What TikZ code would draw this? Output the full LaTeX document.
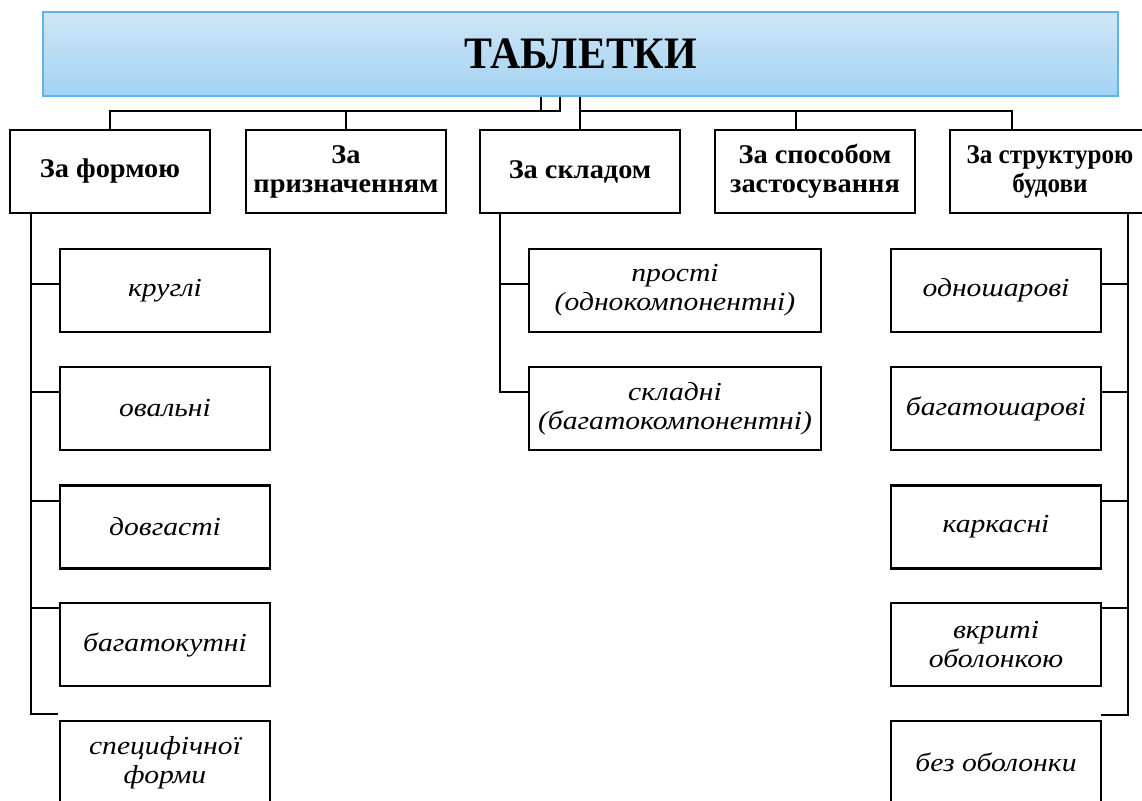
\documentclass[tikz,border=0pt]{standalone}
\usepackage{fontspec}
\setmainfont{Liberation Serif}
\newfontfamily\titlefont{Liberation Serif}[FakeStretch=0.93]
\newfontfamily\catfont{Liberation Serif}[FakeStretch=1.05]
\newfontfamily\catnarrowfont{Liberation Serif}[FakeStretch=0.93]
\newfontfamily\itemfont{Liberation Serif}[FakeStretch=1.14]
\definecolor{titletop}{RGB}{208,229,246}
\definecolor{titlebot}{RGB}{162,211,242}
\definecolor{titleedge}{RGB}{98,178,234}
\begin{document}
\begin{tikzpicture}[x=1pt,y=-1pt,
  box/.style={draw=black, line width=2.2pt, rectangle, inner sep=0pt, align=center},
  catbox/.style={box, minimum width=200pt, minimum height=83pt,
    font=\catfont\bfseries\fontsize{27}{29}\selectfont},
  itembox/.style={box, minimum height=83pt,
    font=\itemfont\itshape\fontsize{26}{29}\selectfont},
  link/.style={draw=black, line width=2pt}]
\useasboundingbox (0,0) rectangle (1142,800);

% heading
\node[draw=titleedge, line width=1.4pt, top color=titletop, bottom color=titlebot,
      minimum width=1075pt, minimum height=84pt, inner sep=0pt]
  (title) at (580.5,54) {\titlefont\bfseries\fontsize{45}{50}\selectfont ТАБЛЕТКИ};

% classification criteria
\node[catbox] (c1) at (110,171.5) {За формою};
\node[catbox] (c2) at (346,171.5) {За\\призначенням};
\node[catbox] (c3) at (580,171.5) {За складом};
\node[catbox] (c4) at (815,171.5) {За способом\\застосування};
\node[catbox, font=\catnarrowfont\bfseries\fontsize{27}{29}\selectfont]
  (c5) at (1050,171.5) {За структурою\\будови};

% by shape
\node[itembox, minimum width=210pt] (s1) at (165,290.5) {круглі};
\node[itembox, minimum width=210pt] (s2) at (165,408.5) {овальні};
\node[itembox, minimum width=210pt] (s3) at (165,527) {довгасті};
\node[itembox, minimum width=210pt] (s4) at (165,644.5) {багатокутні};
\node[itembox, minimum width=210pt] (s5) at (165,762.5) {специфічної\\форми};

% by composition
\node[itembox, minimum width=292pt] (m1) at (675,290.5) {прості\\(однокомпонентні)};
\node[itembox, minimum width=292pt] (m2) at (675,408.5) {складні\\(багатокомпонентні)};

% by structure
\node[itembox, minimum width=210pt] (r1) at (996,290.5) {одношарові};
\node[itembox, minimum width=210pt] (r2) at (996,408.5) {багатошарові};
\node[itembox, minimum width=210pt] (r3) at (996,527) {каркасні};
\node[itembox, minimum width=210pt] (r4) at (996,644.5) {вкриті\\оболонкою};
\node[itembox, minimum width=210pt] (r5) at (996,762.5) {без оболонки};

% junctions under the heading
\coordinate (jA) at (541,111);
\coordinate (jB) at (560,111);
\coordinate (jC) at (580,111);
\coordinate (d4) at (796,111);
\coordinate (d5) at (1012,111);

\draw[link] (jA |- title.south) -- (jA);
\draw[link] (jB |- title.south) -- (jB) -- (c1.north |- jB) -- (c1.north);
\draw[link] (c2.north |- jB) -- (c2.north);
\draw[link] (c3.north |- title.south) -- (c3.north);
\draw[link] (jC) -- (d5) -- (d5 |- c5.north);
\draw[link] (d4) -- (d4 |- c4.north);

% left branch
\coordinate (sL) at (31,714);
\coordinate (hL) at (58,714);
\coordinate (tl1) at (31,284);
\coordinate (tl2) at (31,392);
\coordinate (tl3) at (31,501);
\coordinate (tl4) at (31,608);
\draw[link] (sL |- c1.south) -- (sL) -- (hL);
\draw[link] (tl1) -- (tl1 -| s1.west);
\draw[link] (tl2) -- (tl2 -| s2.west);
\draw[link] (tl3) -- (tl3 -| s3.west);
\draw[link] (tl4) -- (tl4 -| s4.west);

% middle branch
\coordinate (tm1) at (500,284);
\coordinate (tm2) at (500,392);
\draw[link] (tm1 |- c3.south) -- (tm2) -- (tm2 -| m2.west);
\draw[link] (tm1) -- (tm1 -| m1.west);

% right branch
\coordinate (sR) at (1128,715);
\coordinate (hR) at (1101,715);
\coordinate (tr1) at (1128,284);
\coordinate (tr2) at (1128,392);
\coordinate (tr3) at (1128,501);
\coordinate (tr4) at (1128,608);
\draw[link] (sR |- c5.south) -- (sR) -- (hR);
\draw[link] (tr1) -- (tr1 -| r1.east);
\draw[link] (tr2) -- (tr2 -| r2.east);
\draw[link] (tr3) -- (tr3 -| r3.east);
\draw[link] (tr4) -- (tr4 -| r4.east);
\end{tikzpicture}
\end{document}
